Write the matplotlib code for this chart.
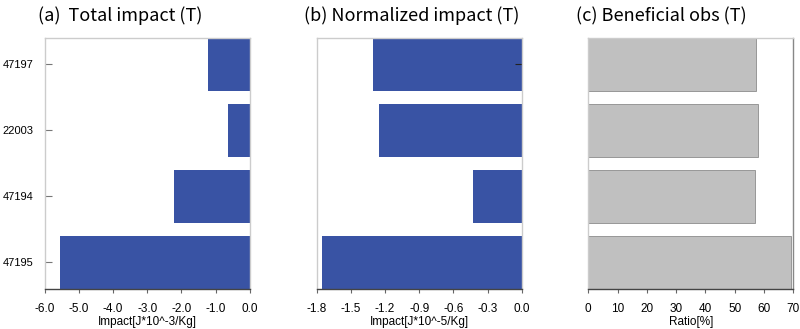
import matplotlib.pyplot as plt
import numpy as np

# stations, top to bottom
stations = ["47197", "22003", "47194", "47195"]
total_impact = [-1.23, -0.64, -2.22, -5.56]
norm_impact = [-1.31, -1.25, -0.43, -1.75]
beneficial = [57.3, 58.0, 57.0, 69.3]

titles = ["(a)  Total impact (T)", "(b) Normalized impact (T)", "(c) Beneficial obs (T)"]
xlabels = ["Impact[J*10^-3/Kg]", "Impact[J*10^-5/Kg]", "Ratio[%]"]

blue = "#3953a4"
gray = "#c0c0c0"

fig = plt.figure(figsize=(8, 3.29), dpi=100)
lefts = [44.7 / 800, 316.7 / 800, 588.3 / 800]
w = 205 / 800
bottom = 1 - 288.7 / 329
h = (288.7 - 38) / 329

ypos = np.arange(len(stations))[::-1]
tick_font = "Liberation Sans"

axes = [fig.add_axes([l, bottom, w, h]) for l in lefts]
ax1, ax2, ax3 = axes

ax1.barh(ypos, total_impact, height=0.8, color=blue)
ax1.set_xlim(-6, 0)
ax1.set_xticks(np.arange(-6, 0.1, 1.0))
ax1.set_xticklabels([f"{v:.1f}" for v in np.arange(-6, 0.1, 1.0)])
ax1.set_yticks(ypos)
ax1.set_yticklabels(stations)

ax2.barh(ypos, norm_impact, height=0.8, color=blue)
ax2.set_xlim(-1.8, 0)
ax2.set_xticks(np.arange(-1.8, 0.01, 0.3))
ax2.set_xticklabels([f"{v:.1f}" for v in np.arange(-1.8, 0.01, 0.3)])
ax2.set_yticks([ypos[0]])
ax2.yaxis.tick_right()
ax2.tick_params(axis="y", labelright=False, direction="in", length=5,
                color="#222222", width=0.8)

ax3.barh(ypos, beneficial, height=0.8, color=gray, edgecolor="#8c8c8c", linewidth=0.6)
ax3.set_xlim(0, 70)
ax3.set_xticks(np.arange(0, 71, 10))
ax3.set_yticks([])

for ax, t, xl, l in zip(axes, titles, xlabels, lefts):
    ax.set_ylim(-0.4, 3.4)
    for s in ["top", "left", "right"]:
        ax.spines[s].set_color("#cccccc")
        ax.spines[s].set_linewidth(1.0)
    ax.spines["bottom"].set_color("#444444")
    ax.spines["bottom"].set_linewidth(1.0)
    ax.set_zorder(1)
    ax.tick_params(axis="x", direction="out", length=3, color="#666666",
                   width=0.8, pad=7, labelsize=8.5)
    for lab in ax.get_xticklabels():
        lab.set_fontfamily(tick_font)
    ax.set_xlabel(xl, fontsize=8.5, fontfamily=tick_font, labelpad=1)

ax3.spines["right"].set_color("#888888")
ax1.tick_params(axis="y", direction="in", length=5, color="#777777", width=0.8,
                pad=8, labelsize=8)
for lab in ax1.get_yticklabels():
    lab.set_fontfamily(tick_font)

title_x = [38, 304, 576]
for tx, t in zip(title_x, titles):
    fig.text(tx / 800, 1 - 16 / 329, t, fontsize=13, ha="left", va="center",
             family=["Noto Sans CJK KR", "DejaVu Sans"])

fig.savefig("out.png", dpi=100)
